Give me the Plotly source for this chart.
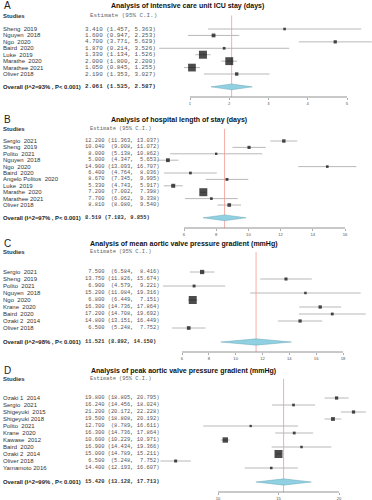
import numpy as np
import plotly.graph_objects as go

# ---------------- data ----------------
a_title = "Analysis of intensive care unit ICU stay (days)"
a_studies = ["Sheng  2019", "Nguyen  2018", "Ngo  2020", "Baird  2020", "Luke  2019",
             "Marathe  2020", "Marathee 2021", "Oliver 2018"]
a_est = [3.410, 1.600, 4.700, 1.870, 1.330, 2.000, 1.050, 2.190]
a_lo = [1.457, 0.947, 3.771, 0.214, 1.134, 1.800, 0.845, 1.353]
a_hi = [5.363, 2.253, 5.629, 3.526, 1.526, 2.200, 1.255, 3.027]
a_overall = [2.061, 1.535, 2.587]
a_overall_label = "Overall (I^2=93% , P< 0.001)"
a_ticks = [1, 2, 3, 4, 5]

b_title = "Analysis of hospital length of stay (days)"
b_studies = ["Sergio  2021", "Sheng  2019", "Polito  2021", "Nguyen  2018", "Ngo  2020",
             "Baird  2020", "Angelo Politos  2020", "Luke  2019", "Marathe  2020",
             "Marathee 2021", "Oliver 2018"]
b_est = [12.200, 10.040, 8.000, 5.000, 14.900, 6.400, 8.670, 5.330, 7.200, 7.700, 8.810]
b_lo = [11.363, 9.008, 5.138, 4.347, 13.093, 4.764, 7.345, 4.743, 7.002, 6.062, 8.080]
b_hi = [13.037, 11.072, 10.862, 5.653, 16.707, 8.036, 9.995, 5.917, 7.398, 9.338, 9.540]
b_overall = [8.519, 7.183, 9.855]
b_overall_label = "Overall (I^2=97% , P< 0.001)"
b_ticks = [6, 8, 10, 12, 14, 16]

c_title = "Analysis of mean aortic valve pressure gradient (mmHg)"
c_studies = ["Sergio  2021", "Sheng  2019", "Polito  2021", "Nguyen  2018", "Ngo  2020",
             "Krane  2020", "Baird  2020", "Ozaki 2  2014", "Oliver 2018"]
c_est = [7.500, 13.750, 6.900, 15.200, 6.800, 16.300, 17.200, 14.800, 6.500]
c_lo = [6.584, 11.826, 4.579, 11.084, 6.449, 14.736, 14.708, 13.151, 5.248]
c_hi = [8.416, 15.674, 9.221, 19.316, 7.151, 17.864, 19.692, 16.449, 7.752]
c_overall = [11.521, 8.892, 14.150]
c_overall_label = "Overall (I^2=98% , P< 0.001)"
c_ticks = [6, 8, 10, 12, 14, 16, 18]

d_title = "Analysis of peak aortic valve pressure gradient (mmHg)"
d_studies = ["Ozaki 1  2014", "Sergio  2021", "Shigeyuki  2015", "Shigeyuki 2018", "Polito  2021",
             "Krane  2020", "Kawase  2012", "Baird  2020", "Ozaki 2  2014", "Oliver 2018",
             "Yamamoto 2016"]
d_est = [19.800, 16.240, 21.200, 19.500, 12.700, 16.300, 10.600, 16.900, 15.000, 6.500, 14.400]
d_lo = [18.805, 14.456, 20.172, 18.808, 8.789, 14.736, 10.229, 14.434, 14.789, 5.248, 12.193]
d_hi = [20.795, 18.024, 22.228, 20.192, 16.611, 17.864, 10.971, 19.366, 15.211, 7.752, 16.607]
d_overall = [15.420, 13.128, 17.713]
d_overall_label = "Overall (I^2=99% , P< 0.001)"
d_ticks = [10, 15, 20]

# ---------------- layout (pixel geometry) ----------------
W, H = 372, 500
panels = [
    dict(letter="A", title=a_title, studies=a_studies, est=a_est, lo=a_lo, hi=a_hi,
         ov=a_overall, ovl=a_overall_label, ticks=a_ticks,
         row0=29, step=6.43, head=-2.1, axis_px=97, top_px=9, tick_px=(190, 347),
         title_x=187, title_y=6, est_font=5.9),
    dict(letter="B", title=b_title, studies=b_studies, est=b_est, lo=b_lo, hi=b_hi,
         ov=b_overall, ovl=b_overall_label, ticks=b_ticks,
         row0=141, step=6.4, head=-1.9, axis_px=228, top_px=125, tick_px=(184, 345),
         title_x=179, title_y=120, est_font=5.4),
    dict(letter="C", title=c_title, studies=c_studies, est=c_est, lo=c_lo, hi=c_hi,
         ov=c_overall, ovl=c_overall_label, ticks=c_ticks,
         row0=272, step=7.0, head=-2.85, axis_px=352, top_px=249, tick_px=(182, 343),
         title_x=184, title_y=244, est_font=5.4),
    dict(letter="D", title=d_title, studies=d_studies, est=d_est, lo=d_lo, hi=d_hi,
         ov=d_overall, ovl=d_overall_label, ticks=d_ticks,
         row0=398, step=7.0, head=-2.75, axis_px=492, top_px=375, tick_px=(218, 339),
         title_x=183, title_y=371, est_font=5.4),
]

SANS = "Liberation Sans, Arial, sans-serif"
MONO = "Liberation Mono, Courier New, monospace"
NB = "\u00a0"


def fmt_rows(est, lo, hi):
    e = [f"{v:.3f}" for v in est]
    l = ["(" + f"{v:.3f}" for v in lo]
    h = [f"{v:.3f}" for v in hi]
    we, wl, wh = max(map(len, e)), max(map(len, l)), max(map(len, h))
    out = []
    for a, b, c in zip(e, l, h):
        s = a.rjust(we) + " " + b.rjust(wl) + ", " + c.rjust(wh) + ")"
        out.append(s.replace(" ", NB))
    return out


fig = go.Figure()
annotations = []
shapes = []
X0_PX = 150

for k, p in enumerate(panels):
    sfx = "" if k == 0 else str(k + 1)
    xref, yref = "x" + sfx, "y" + sfx
    n = len(p["studies"])
    rows = list(range(n))
    ov_idx = n + 1
    step, row0 = p["step"], p["row0"]
    axis_idx = (p["axis_px"] - row0) / step
    top_idx = (p["top_px"] - row0) / step

    t0, t1 = p["ticks"][0], p["ticks"][-1]
    px0, px1 = p["tick_px"]
    scale = (px1 - px0) / (t1 - t0)
    xr = [t0 - (px0 - X0_PX) / scale, t0 + (W - px0) / scale]

    est, lo, hi = np.array(p["est"]), np.array(p["lo"]), np.array(p["hi"])
    se = (hi - lo) / 3.92
    w = 1 / se ** 2
    sizes = 2 + 6 * np.sqrt(w / w.max())

    # CI lines
    cx, cy = [], []
    for i in rows:
        cx += [lo[i], hi[i], None]
        cy += [i, i, None]
    fig.add_trace(go.Scatter(x=cx, y=cy, mode="lines", line=dict(color="#b0b0b0", width=0.9),
                             xaxis=xref, yaxis=yref, hoverinfo="skip"))
    # reference line at overall estimate
    fig.add_trace(go.Scatter(x=[p["ov"][0], p["ov"][0]], y=[p["head"], axis_idx], mode="lines",
                             line=dict(color="#f29a92", width=0.8), xaxis=xref, yaxis=yref,
                             hoverinfo="skip"))
    # study boxes
    fig.add_trace(go.Scatter(x=est, y=rows, mode="markers",
                             marker=dict(symbol="square", size=sizes, color="black",
                                         line=dict(width=0)),
                             xaxis=xref, yaxis=yref, hoverinfo="skip"))
    # overall diamond
    hh = 0.45
    oe, ol, oh = p["ov"]
    fig.add_trace(go.Scatter(x=[ol, oe, oh, oe, ol], y=[ov_idx, ov_idx - hh, ov_idx, ov_idx + hh, ov_idx],
                             mode="lines", fill="toself", fillcolor="#8fd0e2",
                             line=dict(color="#6fa9b8", width=0.5), xaxis=xref, yaxis=yref,
                             hoverinfo="skip"))

    # axis segment
    shapes.append(dict(type="line", xref=xref, yref=yref + " domain", x0=t0, x1=t1, y0=0, y1=0,
                       line=dict(color="#777", width=0.8)))

    dom = [1 - p["axis_px"] / H, 1 - p["top_px"] / H]
    fig.layout["xaxis" + sfx] = dict(domain=[X0_PX / W, 1], range=xr, anchor=yref,
                                     showgrid=False, zeroline=False, showline=False,
                                     ticks="outside", ticklen=2, tickwidth=0.6, tickcolor="#777",
                                     tickvals=p["ticks"], ticktext=[str(t) for t in p["ticks"]],
                                     tickfont=dict(size=4.2, color="#555", family=SANS),
                                     fixedrange=True)
    fig.layout["yaxis" + sfx] = dict(domain=dom, range=[axis_idx, top_idx], anchor=xref,
                                     visible=False, fixedrange=True)

    # texts
    est_txt = fmt_rows(p["est"], p["lo"], p["hi"])
    ov_txt = fmt_rows([oe], [ol], [oh])
    for i in rows:
        annotations.append(dict(x=1 / W, y=i, xref="paper", yref=yref, text=p["studies"][i].replace(" ", NB),
                                showarrow=False, xanchor="left", yanchor="middle",
                                font=dict(family=SANS, size=6, color="#333")))
        annotations.append(dict(x=83 / W, y=i, xref="paper", yref=yref, text=est_txt[i],
                                showarrow=False, xanchor="left", yanchor="middle",
                                font=dict(family=MONO, size=p["est_font"], color="#555")))
    annotations.append(dict(x=1 / W, y=ov_idx, xref="paper", yref=yref, text="<b>" + p["ovl"].replace(" ", NB) + "</b>",
                            showarrow=False, xanchor="left", yanchor="middle",
                            font=dict(family=SANS, size=5.9, color="#222")))
    annotations.append(dict(x=83 / W, y=ov_idx, xref="paper", yref=yref, text="<b>" + ov_txt[0] + "</b>",
                            showarrow=False, xanchor="left", yanchor="middle",
                            font=dict(family=MONO, size=p["est_font"], color="#333")))
    annotations.append(dict(x=1 / W, y=p["head"], xref="paper", yref=yref, text="<b>Studies</b>",
                            showarrow=False, xanchor="left", yanchor="middle",
                            font=dict(family=SANS, size=6, color="#333")))
    annotations.append(dict(x=88 / W, y=p["head"], xref="paper", yref=yref,
                            text="Estimate" + NB + "(95%" + NB + "C.I.)",
                            showarrow=False, xanchor="left", yanchor="middle",
                            font=dict(family=MONO, size=p["est_font"], color="#666")))
    annotations.append(dict(x=p["title_x"] / W, y=1 - p["title_y"] / H, xref="paper", yref="paper",
                            text="<b>" + p["title"] + "</b>", showarrow=False,
                            xanchor="center", yanchor="middle",
                            font=dict(family=SANS, size=7, color="#111")))
    annotations.append(dict(x=2 / W, y=1 - (p["title_y"] - 1) / H, xref="paper", yref="paper",
                            text=p["letter"], showarrow=False, xanchor="left", yanchor="middle",
                            font=dict(family=SANS, size=10, color="#222")))

fig.update_layout(width=W, height=H, margin=dict(l=0, r=0, t=0, b=0),
                  paper_bgcolor="white", plot_bgcolor="rgba(0,0,0,0)", showlegend=False,
                  annotations=annotations, shapes=shapes)
fig.write_html("out.html", config={"displayModeBar": False, "staticPlot": True},
               post_script="document.body.style.margin='0';document.body.style.overflow='hidden';")
